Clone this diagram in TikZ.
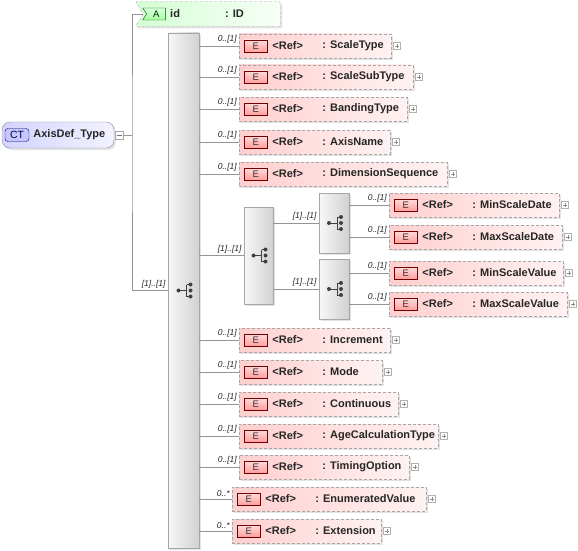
\documentclass[tikz,border=0pt]{standalone}
\usepackage{fontspec}
\setmainfont{Liberation Sans}
\usetikzlibrary{positioning}
\usetikzlibrary{shadows}
\usetikzlibrary{shapes.symbols}

\begin{document}
\begin{tikzpicture}[x=1pt, y=-1pt,
        conn/.style={draw=black!42, line width=0.6pt},
        mult/.style={pos=1, anchor=south east, inner sep=2pt, font=\fontsize{8.5}{9}\selectfont\itshape, text=black!85},
        nametext/.style={rectangle, inner sep=0pt, minimum size=0pt, anchor=west, font=\fontsize{11}{12}\selectfont\bfseries, text=black!85},
        shadowed/.style={drop shadow={opacity=0.22, shadow xshift=2pt, shadow yshift=-2pt}},
        ctbox/.style={rectangle, rounded corners=8pt, draw=blue!20!black!45, left color=blue!17, right color=blue!5, shadowed},
        ctbadge/.style={rectangle, rounded corners=3pt, draw=blue!45!black, fill=blue!22, minimum width=24pt, minimum height=13pt, inner sep=0pt, font=\fontsize{10.5}{11}\selectfont, text=blue!25!black},
        minusbox/.style={rectangle, draw=black!35, fill=white, minimum size=8pt, inner sep=0pt,
            path picture={\draw[black!55] ([xshift=-2.5pt]path picture bounding box.center) -- ([xshift=2.5pt]path picture bounding box.center);}},
        plusbox/.style={rectangle, solid, draw=black!30, fill=white, minimum size=7pt, inner sep=0pt,
            path picture={\draw[black!45] ([xshift=-2pt]path picture bounding box.center) -- ([xshift=2pt]path picture bounding box.center)
                                         ([yshift=-2pt]path picture bounding box.center) -- ([yshift=2pt]path picture bounding box.center);}},
        attrbox/.style={signal, signal from=west, signal to=nowhere, signal pointer angle=112, rounded corners=2pt, dash pattern=on 3pt off 2pt, draw=black!35, left color=green!17, right color=green!3, inner sep=0pt, shadowed},
        abadge/.style={signal, signal from=west, signal to=nowhere, signal pointer angle=112, solid, draw=green!35!black, top color=green!15, bottom color=green!35!white, minimum width=23pt, minimum height=12pt, inner sep=0pt, font=\fontsize{9.5}{10}\selectfont, text=green!15!black},
        seqbox/.style={rectangle, draw=black!35, left color=black!3, right color=black!18, shadowed,
            path picture={
                \coordinate (c) at (path picture bounding box.center);
                \draw[black!75, line width=0.8pt] ([xshift=-5pt]c) -- ([xshift=3pt]c) ([xshift=3pt, yshift=6pt]c) -- ([xshift=3pt, yshift=-6pt]c)
                    ([xshift=3pt, yshift=6pt]c) -- ([xshift=7pt, yshift=6pt]c) ([xshift=3pt, yshift=-6pt]c) -- ([xshift=7pt, yshift=-6pt]c);
                \fill[black!75] ([xshift=-5pt]c) circle (2pt) ([xshift=7pt, yshift=6pt]c) circle (2pt)
                    ([xshift=7pt]c) circle (2pt) ([xshift=7pt, yshift=-6pt]c) circle (2pt);
            }},
        ebadge/.style={rectangle, solid, draw=red!45!black, top color=red!14, bottom color=red!38, minimum width=23pt, minimum height=12pt, inner sep=0pt, anchor=west, font=\fontsize{9.5}{10}\selectfont, text=black!80},
        elembox/.style={rectangle, dash pattern=on 3pt off 2pt, draw=black!35, left color=red!19, right color=red!5, minimum height=24pt, inner sep=0pt, anchor=west, shadowed,
            label={[plusbox, xshift=2pt]right:{}},
            path picture={
                \node[ebadge] at ([xshift=5pt]path picture bounding box.west) {E};
                \node[nametext] at ([xshift=33pt]path picture bounding box.west) {<Ref>};
                \node[nametext] at ([xshift=83pt]path picture bounding box.west) {: #1};
            }},
    ]
    \useasboundingbox (0,0) rectangle (578,551);

    % Nodes
    \node[ctbox, minimum width=112pt, minimum height=26pt] (axisdef) at (58,135) {};
    \node[ctbadge, right=3pt of axisdef.west] (axisdef_ct) {CT};
    \node[nametext, right=4pt of axisdef_ct] {AxisDef\_Type};
    \node[minusbox, right=1pt of axisdef] (axisdef_minus) {};

    \node[attrbox, minimum width=145pt, minimum height=25pt] (id_attr) at (212,14) {};
    \node[abadge, right=3pt of id_attr.west] (id_attr_a) {A};
    \node[nametext] at (170,14) {id};
    \node[nametext] at (225,14) {: ID};

    \node[seqbox, minimum width=31pt, minimum height=515pt] (seq_main) at (183.5,290.5) {};
    \node[seqbox, minimum width=29pt, minimum height=97pt] (choice_axis) at (258.5,255.5) {};
    \node[seqbox, minimum width=30pt, minimum height=60pt] (seq_date) at (334,223) {};
    \node[seqbox, minimum width=30pt, minimum height=60pt] (seq_value) at (334,289) {};

    \node[elembox=ScaleType, minimum width=152pt] (scale_type) at (239,46) {};
    \node[elembox=ScaleSubType, minimum width=174pt] (scale_sub_type) at (239,77) {};
    \node[elembox=BandingType, minimum width=168pt] (banding_type) at (239,109) {};
    \node[elembox=AxisName, minimum width=151pt] (axis_name) at (239,142) {};
    \node[elembox=DimensionSequence, minimum width=208pt] (dimension_sequence) at (239,174) {};

    \node[elembox=MinScaleDate, minimum width=170pt] (min_scale_date) at (389,205) {};
    \node[elembox=MaxScaleDate, minimum width=173pt] (max_scale_date) at (389,237) {};
    \node[elembox=MinScaleValue, minimum width=174pt] (min_scale_value) at (389,273) {};
    \node[elembox=MaxScaleValue, minimum width=178pt] (max_scale_value) at (389,304) {};

    \node[elembox=Increment, minimum width=151pt] (increment) at (239,340) {};
    \node[elembox=Mode, minimum width=143pt] (mode) at (239,372) {};
    \node[elembox=Continuous, minimum width=159pt] (continuous) at (239,404) {};
    \node[elembox=AgeCalculationType, minimum width=199pt] (age_calculation_type) at (239,436) {};
    \node[elembox=TimingOption, minimum width=170pt] (timing_option) at (239,467) {};
    \node[elembox=EnumeratedValue, minimum width=194pt] (enumerated_value) at (232,499) {};
    \node[elembox=Extension, minimum width=149pt] (extension) at (232,531) {};

    %Lines
    \coordinate (trunk) at (132,135);
    \draw[conn] (axisdef_minus.east) -- (trunk);
    \draw[conn] (id_attr.west) -| (trunk) |- node[mult] {[1]..[1]} (seq_main.west);

    \draw[conn] (seq_main.east |- scale_type.west) -- node[mult] {0..[1]} (scale_type.west);
    \draw[conn] (seq_main.east |- scale_sub_type.west) -- node[mult] {0..[1]} (scale_sub_type.west);
    \draw[conn] (seq_main.east |- banding_type.west) -- node[mult] {0..[1]} (banding_type.west);
    \draw[conn] (seq_main.east |- axis_name.west) -- node[mult] {0..[1]} (axis_name.west);
    \draw[conn] (seq_main.east |- dimension_sequence.west) -- node[mult] {0..[1]} (dimension_sequence.west);
    \draw[conn] (seq_main.east |- choice_axis.west) -- node[mult] {[1]..[1]} (choice_axis.west);
    \draw[conn] (seq_main.east |- increment.west) -- node[mult] {0..[1]} (increment.west);
    \draw[conn] (seq_main.east |- mode.west) -- node[mult] {0..[1]} (mode.west);
    \draw[conn] (seq_main.east |- continuous.west) -- node[mult] {0..[1]} (continuous.west);
    \draw[conn] (seq_main.east |- age_calculation_type.west) -- node[mult] {0..[1]} (age_calculation_type.west);
    \draw[conn] (seq_main.east |- timing_option.west) -- node[mult] {0..[1]} (timing_option.west);
    \draw[conn] (seq_main.east |- enumerated_value.west) -- node[mult] {0..*} (enumerated_value.west);
    \draw[conn] (seq_main.east |- extension.west) -- node[mult] {0..*} (extension.west);

    \draw[conn] (choice_axis.east |- seq_date.west) -- node[mult] {[1]..[1]} (seq_date.west);
    \draw[conn] (choice_axis.east |- seq_value.west) -- node[mult] {[1]..[1]} (seq_value.west);

    \draw[conn] (seq_date.east |- min_scale_date.west) -- node[mult] {0..[1]} (min_scale_date.west);
    \draw[conn] (seq_date.east |- max_scale_date.west) -- node[mult] {0..[1]} (max_scale_date.west);
    \draw[conn] (seq_value.east |- min_scale_value.west) -- node[mult] {0..[1]} (min_scale_value.west);
    \draw[conn] (seq_value.east |- max_scale_value.west) -- node[mult] {0..[1]} (max_scale_value.west);
\end{tikzpicture}
\end{document}
